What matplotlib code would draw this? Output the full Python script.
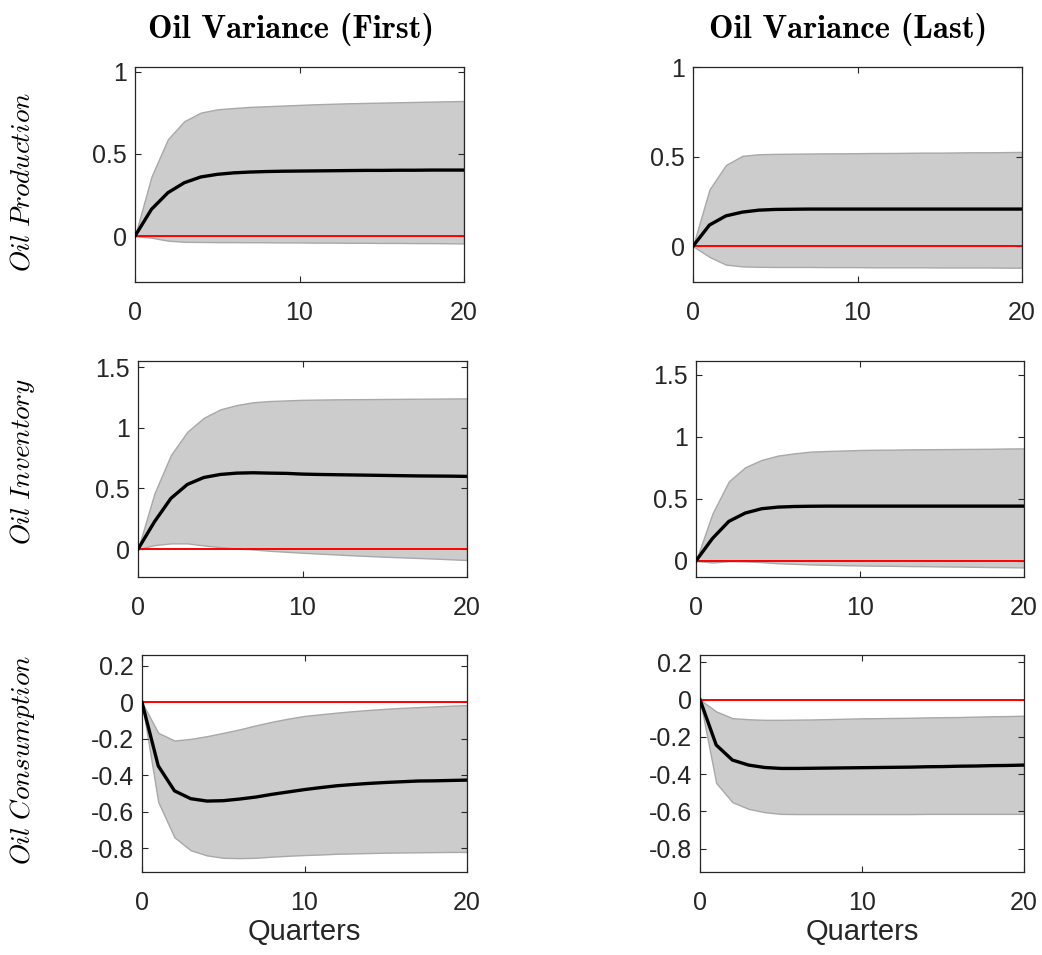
import os
import numpy as np
import matplotlib
matplotlib.use("Agg")
import matplotlib.pyplot as plt
from matplotlib.font_manager import FontProperties

plt.rcParams['mathtext.fontset'] = 'cm'
plt.rcParams['font.family'] = ['Liberation Sans', 'DejaVu Sans']

quarters = np.arange(21)

col_titles = ["Oil Variance (First)", "Oil Variance (Last)"]
row_labels = ["Oil Production", "Oil Inventory", "Oil Consumption"]

# Oil Production
prod_first_med = [0, 0.163, 0.264, 0.325, 0.360, 0.376, 0.385, 0.390, 0.393, 0.395, 0.396,
                  0.397, 0.398, 0.399, 0.400, 0.400, 0.401, 0.401, 0.402, 0.402, 0.402]
prod_first_hi = [0, 0.362, 0.590, 0.700, 0.752, 0.772, 0.780, 0.787, 0.791, 0.795, 0.799,
                 0.803, 0.806, 0.809, 0.811, 0.813, 0.815, 0.817, 0.819, 0.821, 0.823]
prod_first_lo = [0, -0.010, -0.028, -0.035, -0.036, -0.037, -0.037, -0.038, -0.038, -0.039, -0.039,
                 -0.040, -0.040, -0.041, -0.041, -0.042, -0.042, -0.043, -0.043, -0.044, -0.045]
prod_last_med = [0, 0.118, 0.169, 0.190, 0.201, 0.205, 0.206, 0.207, 0.207, 0.207, 0.207,
                 0.207, 0.207, 0.207, 0.207, 0.207, 0.207, 0.207, 0.207, 0.207, 0.207]
prod_last_hi = [0, 0.316, 0.453, 0.504, 0.513, 0.515, 0.516, 0.517, 0.518, 0.518, 0.519,
                0.520, 0.520, 0.521, 0.522, 0.522, 0.523, 0.524, 0.524, 0.525, 0.526]
prod_last_lo = [0, -0.060, -0.103, -0.113, -0.115, -0.116, -0.116, -0.116, -0.117, -0.117, -0.117,
                -0.118, -0.118, -0.118, -0.118, -0.119, -0.119, -0.119, -0.119, -0.120, -0.120]

# Oil Inventory
inv_first_med = [0, 0.225, 0.418, 0.533, 0.590, 0.615, 0.626, 0.629, 0.626, 0.624, 0.618,
                 0.615, 0.613, 0.611, 0.609, 0.607, 0.605, 0.603, 0.602, 0.601, 0.599]
inv_first_hi = [0, 0.459, 0.775, 0.967, 1.082, 1.151, 1.187, 1.210, 1.220, 1.225, 1.230,
                1.232, 1.234, 1.235, 1.236, 1.237, 1.238, 1.239, 1.240, 1.241, 1.242]
inv_first_lo = [0, 0.033, 0.047, 0.047, 0.030, 0.016, 0.005, -0.003, -0.014, -0.022, -0.030,
                -0.037, -0.044, -0.051, -0.057, -0.063, -0.068, -0.073, -0.078, -0.084, -0.090]
inv_last_med = [0, 0.180, 0.318, 0.385, 0.420, 0.433, 0.438, 0.440, 0.441, 0.441, 0.441,
                0.441, 0.441, 0.441, 0.441, 0.441, 0.441, 0.441, 0.441, 0.441, 0.441]
inv_last_hi = [0, 0.380, 0.640, 0.754, 0.813, 0.848, 0.866, 0.880, 0.885, 0.889, 0.893,
               0.895, 0.896, 0.898, 0.899, 0.900, 0.901, 0.902, 0.903, 0.905, 0.906]
inv_last_lo = [0, -0.013, -0.003, -0.005, -0.010, -0.019, -0.024, -0.029, -0.032, -0.035, -0.037,
               -0.039, -0.040, -0.042, -0.043, -0.045, -0.046, -0.048, -0.050, -0.051, -0.053]

# Oil Consumption
cons_first_med = [0, -0.348, -0.485, -0.528, -0.541, -0.539, -0.530, -0.519, -0.504, -0.491, -0.478,
                  -0.467, -0.457, -0.450, -0.444, -0.439, -0.435, -0.431, -0.430, -0.428, -0.426]
cons_first_hi = [0, -0.167, -0.209, -0.200, -0.185, -0.167, -0.148, -0.126, -0.106, -0.089, -0.074,
                 -0.065, -0.056, -0.048, -0.041, -0.035, -0.030, -0.026, -0.022, -0.018, -0.015]
cons_first_lo = [0, -0.546, -0.740, -0.811, -0.839, -0.852, -0.854, -0.852, -0.846, -0.841, -0.837,
                 -0.834, -0.830, -0.828, -0.826, -0.824, -0.823, -0.822, -0.821, -0.820, -0.820]
cons_last_med = [0, -0.243, -0.324, -0.351, -0.364, -0.369, -0.369, -0.368, -0.367, -0.366, -0.365,
                 -0.364, -0.363, -0.362, -0.360, -0.359, -0.357, -0.356, -0.354, -0.353, -0.351]
cons_last_hi = [0, -0.063, -0.099, -0.105, -0.108, -0.108, -0.107, -0.106, -0.104, -0.102, -0.100,
                -0.099, -0.098, -0.097, -0.095, -0.094, -0.093, -0.091, -0.089, -0.088, -0.086]
cons_last_lo = [0, -0.447, -0.550, -0.586, -0.604, -0.613, -0.614, -0.614, -0.614, -0.614, -0.614,
                -0.614, -0.614, -0.614, -0.613, -0.613, -0.613, -0.613, -0.613, -0.613, -0.613]

panels = [
    [(prod_first_med, prod_first_lo, prod_first_hi), (prod_last_med, prod_last_lo, prod_last_hi)],
    [(inv_first_med, inv_first_lo, inv_first_hi), (inv_last_med, inv_last_lo, inv_last_hi)],
    [(cons_first_med, cons_first_lo, cons_first_hi), (cons_last_med, cons_last_lo, cons_last_hi)],
]

ylims = [[(-0.28, 1.03), (-0.20, 1.0)],
         [(-0.23, 1.55), (-0.13, 1.61)],
         [(-0.93, 0.26), (-0.925, 0.24)]]
yticks = [[[0, 0.5, 1], [0, 0.5, 1]],
          [[0, 0.5, 1, 1.5], [0, 0.5, 1, 1.5]],
          [[-0.8, -0.6, -0.4, -0.2, 0, 0.2], [-0.8, -0.6, -0.4, -0.2, 0, 0.2]]]

W, H = 1042, 955
fig = plt.figure(figsize=(W / 100, H / 100), dpi=100)

# axes boxes in pixels (left, right, top, bottom)
boxes = [[(135, 464, 67, 282), (693, 1022, 67, 282)],
         [(138, 467, 361, 577), (696, 1024, 361, 577)],
         [(142, 467, 655, 872), (700, 1024, 655, 872)]]

txtc = '#262626'

def fmt(v):
    if abs(v - round(v)) < 1e-9:
        return str(int(round(v)))
    return ('%g' % v)

for r in range(3):
    for c in range(2):
        l, rr, t, b = boxes[r][c]
        ax = fig.add_axes([l / W, 1 - b / H, (rr - l) / W, (b - t) / H])
        med, lo, hi = panels[r][c]
        ax.fill_between(quarters, lo, hi, facecolor='#cccccc', edgecolor='#a8a8a8', linewidth=1.0, zorder=1)
        ax.plot(quarters, np.zeros_like(quarters, dtype=float), color='#ff0000', lw=1.4, zorder=2)
        ax.plot(quarters, med, color='black', lw=2.4, zorder=3)
        ax.set_xlim(0, 20)
        ax.set_ylim(*ylims[r][c])
        ax.set_xticks([0, 10, 20])
        ax.set_yticks(yticks[r][c])
        ax.set_yticklabels([fmt(v) for v in yticks[r][c]])
        ax.tick_params(direction='in', top=True, right=True, length=4, width=0.8,
                       labelsize=18, colors=txtc, pad=14)
        ax.tick_params(axis='y', pad=6)
        for s in ax.spines.values():
            s.set_color(txtc)
            s.set_linewidth(0.9)
        if r == 2:
            ax.set_xlabel('Quarters', fontsize=21, color=txtc, labelpad=2)

cmb_path = os.path.join(matplotlib.get_data_path(), 'fonts', 'ttf', 'cmb10.ttf')
title_fp = FontProperties(fname=cmb_path, size=23.5)

title_x = [291, 848]
for c in range(2):
    fig.text(title_x[c] / W, 1 - 30 / H, col_titles[c],
             ha='center', va='center', fontproperties=title_fp, color='black')

label_y = [182, 462, 760]
for r in range(3):
    fig.text(23 / W, 1 - label_y[r] / H, r'$\mathit{' + row_labels[r].replace(' ', r'\ ') + '}$',
             ha='center', va='center', rotation=90, fontsize=19.5, color='black')

fig.savefig('out.png', dpi=100)
